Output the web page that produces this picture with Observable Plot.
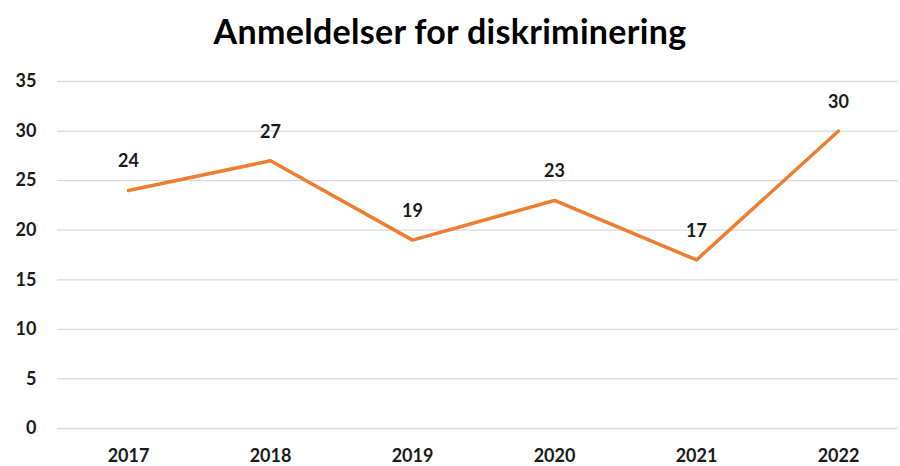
<!DOCTYPE html>
<html>
<head>
<meta charset="utf-8">
<script src="https://cdn.jsdelivr.net/npm/d3@7"></script>
<script src="https://cdn.jsdelivr.net/npm/@observablehq/plot@0.6"></script>
<style>
  html, body { margin: 0; padding: 0; background: #fff; }
  #wrap { width: 900px; height: 466px; overflow: hidden; }
  #title { height: 62px; line-height: 62px; text-align: center; font-family: Lato, "Open Sans", sans-serif; font-weight: 700; font-size: 34px; letter-spacing: 0.3px; color: #000; margin: 0; overflow: hidden; }
</style>
</head>
<body>
<div id="wrap">
  <div id="title">Anmeldelser for diskriminering</div>
  <div id="chart"></div>
</div>
<script>
const years = ["2017", "2018", "2019", "2020", "2021", "2022"];
const values = [24, 27, 19, 23, 17, 30];
const yTicks = [0, 5, 10, 15, 20, 25, 30, 35];

const data = years.map((y, i) => ({year: y, value: values[i]}));

const chart = Plot.plot({
  width: 900,
  height: 404,
  marginLeft: 57,
  marginRight: 2,
  marginTop: 19,
  marginBottom: 38,
  style: {fontFamily: "Lato, 'Open Sans', sans-serif", fontSize: "18px", fontWeight: "bold", color: "#1a1a1a", background: "#fff", overflow: "visible"},
  x: {type: "point", domain: years, range: [57, 909], padding: 0.5},
  y: {domain: [0, 35]},
  marks: [
    Plot.ruleY(yTicks, {stroke: "#d9d9d9", strokeWidth: 1.3}),
    Plot.axisY({ticks: yTicks, tickSize: 0, tickPadding: 21, label: null, fontSize: 18, fontWeight: "bold"}),
    Plot.axisX({tickSize: 0, tickPadding: 21, label: null, fontSize: 18, fontWeight: "bold"}),
    Plot.line(data, {x: "year", y: "value", stroke: "#ED7D31", strokeWidth: 3.5, strokeLinejoin: "round", strokeLinecap: "round"}),
    Plot.text(data, {x: "year", y: "value", text: d => String(d.value), dy: -29, fontSize: 18, fontWeight: "bold", fill: "#1a1a1a"})
  ]
});
document.getElementById("chart").appendChild(chart);
</script>
</body>
</html>
